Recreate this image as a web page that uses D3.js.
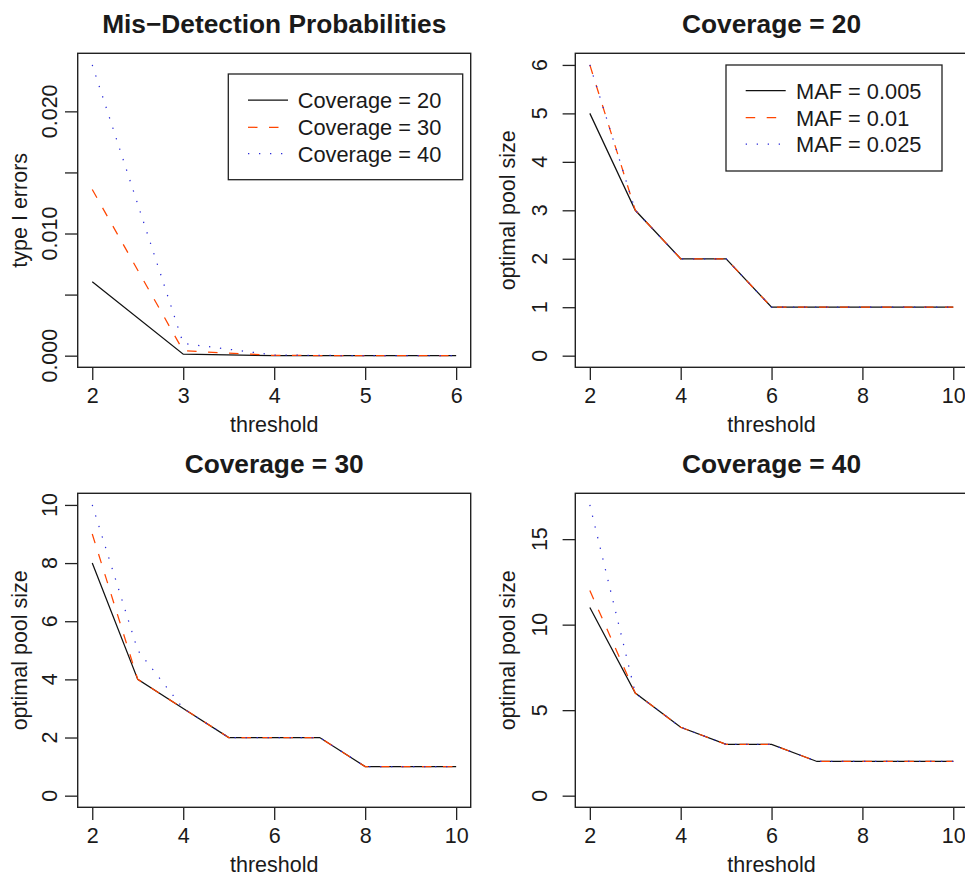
<!DOCTYPE html>
<html>
<head>
<meta charset="utf-8">
<script src="https://cdn.jsdelivr.net/npm/d3@7"></script>
<style>
  html, body { margin: 0; padding: 0; background: #fff; }
  svg text { font-family: "Liberation Sans", Arial, Helvetica, sans-serif; fill: #1a1a1a; }
</style>
</head>
<body>
<svg id="chart" width="965" height="877"></svg>
<script>
// panel 1: type I errors by threshold
var thresholds1 = [2, 3, 4, 5, 6];
var err_cov20 = [0.00605, 0.00012, 0, 0, 0];
var err_cov30 = [0.0136, 0.0004, 0.00002, 0, 0];
var err_cov40 = [0.0238, 0.001, 0.00005, 0, 0];
var cov_labels = ["Coverage = 20", "Coverage = 30", "Coverage = 40"];

// panels 2-4: optimal pool size by threshold
var thresholds = [2, 3, 4, 5, 6, 7, 8, 9, 10];
var cov20_maf005 = [5, 3, 2, 2, 1, 1, 1, 1, 1];
var cov20_maf01  = [6, 3, 2, 2, 1, 1, 1, 1, 1];
var cov20_maf025 = [6, 3, 2, 2, 1, 1, 1, 1, 1];
var cov30_maf005 = [8, 4, 3, 2, 2, 2, 1, 1, 1];
var cov30_maf01  = [9, 4, 3, 2, 2, 2, 1, 1, 1];
var cov30_maf025 = [10, 5, 3, 2, 2, 2, 1, 1, 1];
var cov40_maf005 = [11, 6, 4, 3, 3, 2, 2, 2, 2];
var cov40_maf01  = [12, 6, 4, 3, 3, 2, 2, 2, 2];
var cov40_maf025 = [17, 6, 4, 3, 3, 2, 2, 2, 2];
var maf_labels = ["MAF = 0.005", "MAF = 0.01", "MAF = 0.025"];

var line_styles = [
  {color: "#111", dash: null},
  {color: "orangered", dash: "9.5,11.5"},
  {color: "#2a2ad8", dash: "1.3,9.7"}
];

var font_size = "21.5px";

var svg = d3.select("#chart");
svg.append("rect").attr("width", 965).attr("height", 877).attr("fill", "#fff");

var panels = [
  {title: "Mis\u2212Detection Probabilities", box: [77.7, 53.3, 470.7, 367.3],
   x: thresholds1, series: [err_cov20, err_cov30, err_cov40],
   xticks: [2, 3, 4, 5, 6], yticks: [0, 0.005, 0.01, 0.015, 0.02],
   ylabels: [0, 0.01, 0.02], fmt: d3.format(".3f"),
   ylab: "type I errors", ylabX: -50.4, ytickX: -21,
   legend: {labels: cov_labels, box: [228.3, 74, 462.7, 179.7], rows: [100, 127.3, 153.7], x0: 248, x1: 288, tx: 297.7}},
  {title: "Coverage = 20", box: [575.3, 53.3, 967.8, 367.3],
   x: thresholds, series: [cov20_maf005, cov20_maf01, cov20_maf025],
   xticks: [2, 4, 6, 8, 10], yticks: [0, 1, 2, 3, 4, 5, 6],
   ylab: "optimal pool size", ylabX: -60.3, ytickX: -28.6,
   legend: {labels: maf_labels, box: [726, 65, 942, 171], rows: [90.7, 117.7, 144], x0: 745.7, x1: 785.7, tx: 796}},
  {title: "Coverage = 30", box: [77.7, 493.3, 470.7, 807.3],
   x: thresholds, series: [cov30_maf005, cov30_maf01, cov30_maf025],
   xticks: [2, 4, 6, 8, 10], yticks: [0, 2, 4, 6, 8, 10],
   ylab: "optimal pool size", ylabX: -50.4, ytickX: -21},
  {title: "Coverage = 40", box: [575.3, 493.3, 967.8, 807.3],
   x: thresholds, series: [cov40_maf005, cov40_maf01, cov40_maf025],
   xticks: [2, 4, 6, 8, 10], yticks: [0, 5, 10, 15],
   ylab: "optimal pool size", ylabX: -60.3, ytickX: -28.6}
];

panels.forEach(drawPanel);

function drawPanel(p) {
  var L = p.box[0], T = p.box[1], R = p.box[2], B = p.box[3];
  var g = svg.append("g");

  // ylim = c(0, max), with R's 4% padding on both axes
  var xe = d3.extent(p.x), xpad = (xe[1] - xe[0]) * 0.04;
  var ymax = d3.max(p.series, function(s) { return d3.max(s); });
  var ypad = ymax * 0.04;

  var x = d3.scaleLinear().domain([xe[0] - xpad, xe[1] + xpad]).range([L, R]);
  var y = d3.scaleLinear().domain([-ypad, ymax + ypad]).range([B, T]);

  // series
  var line = d3.line()
      .x(function(d, i) { return x(p.x[i]); })
      .y(function(d) { return y(d); });

  p.series.forEach(function(s, i) {
    g.append("path")
      .attr("d", line(s))
      .attr("fill", "none")
      .attr("stroke", line_styles[i].color)
      .attr("stroke-width", 1.25)
      .attr("stroke-dasharray", line_styles[i].dash);
  });

  // box
  g.append("rect")
    .attr("x", L).attr("y", T)
    .attr("width", R - L).attr("height", B - T)
    .attr("fill", "none").attr("stroke", "#222").attr("stroke-width", 1.4);

  // x axis
  var xAxis = g.append("g").attr("transform", "translate(0," + B + ")")
      .call(d3.axisBottom(x).tickValues(p.xticks).tickSize(12.7).tickFormat(d3.format("d")));
  xAxis.select(".domain").remove();
  xAxis.selectAll("line").attr("stroke", "#222").attr("stroke-width", 1.3);
  xAxis.selectAll("text")
    .attr("y", 36).attr("dy", null)
    .style("font-size", font_size).style("font-family", "'Liberation Sans', Arial, sans-serif")
    .attr("fill", "#1a1a1a");

  // y axis, labels rotated like R
  var fmt = p.fmt || d3.format("d");
  var yAxis = g.append("g").attr("transform", "translate(" + L + ",0)")
      .call(d3.axisLeft(y).tickValues(p.yticks).tickSize(12.7).tickFormat(""));
  yAxis.select(".domain").remove();
  yAxis.selectAll("line").attr("stroke", "#222").attr("stroke-width", 1.3);

  var ylabelVals = p.ylabels || p.yticks;
  g.selectAll(".ytl").data(ylabelVals).enter().append("text")
    .attr("class", "ytl")
    .attr("transform", function(d) { return "translate(" + (L + p.ytickX) + "," + y(d) + ") rotate(-90)"; })
    .attr("text-anchor", "middle")
    .style("font-size", font_size)
    .text(fmt);

  // axis titles
  g.append("text")
    .attr("x", (L + R) / 2).attr("y", B + 64.4)
    .attr("text-anchor", "middle")
    .style("font-size", font_size)
    .text("threshold");

  g.append("text")
    .attr("transform", "translate(" + (L + p.ylabX) + "," + ((T + B) / 2) + ") rotate(-90)")
    .attr("text-anchor", "middle")
    .style("font-size", font_size)
    .text(p.ylab);

  g.append("text")
    .attr("x", (L + R) / 2).attr("y", T - 20.6)
    .attr("text-anchor", "middle")
    .style("font-size", "26.3px").style("font-weight", "bold")
    .text(p.title);

  if (p.legend) drawLegend(g, p.legend);
}

function drawLegend(g, lg) {
  g.append("rect")
    .attr("x", lg.box[0]).attr("y", lg.box[1])
    .attr("width", lg.box[2] - lg.box[0]).attr("height", lg.box[3] - lg.box[1])
    .attr("fill", "#fff").attr("stroke", "#222").attr("stroke-width", 1.3);

  lg.labels.forEach(function(lab, i) {
    var yy = lg.rows[i];
    g.append("line")
      .attr("x1", lg.x0).attr("x2", lg.x1).attr("y1", yy).attr("y2", yy)
      .attr("stroke", line_styles[i].color)
      .attr("stroke-width", 1.25)
      .attr("stroke-dasharray", line_styles[i].dash);
    g.append("text")
      .attr("x", lg.tx).attr("y", yy).attr("dy", "0.36em")
      .style("font-size", "21.8px")
      .text(lab);
  });
}
</script>
</body>
</html>
